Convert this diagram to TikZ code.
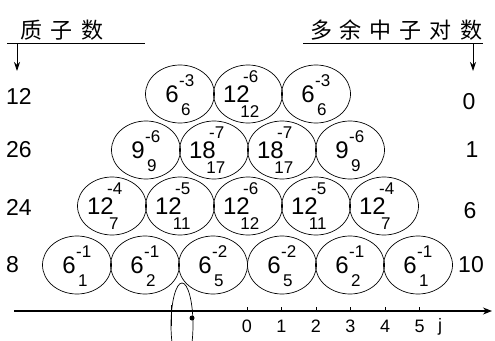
\documentclass[tikz,border=0pt]{standalone}
\usepackage{fontspec}
\setmainfont{Liberation Sans}
\newfontfamily\cjk{Noto Sans CJK SC}
\usetikzlibrary{shapes.geometric,arrows.meta}
% single-digit main number
\newcommand\nucs[6]{%
  \node[ball] (#1) at (#2,#3) {};
  \node[bignum, anchor=east, xshift=-1pt] (#1m) at (#2,#3) {#4};
  \path (#1m.east) ++(0,-13) node[smallnum, anchor=west] (#1p) {#5};
  \path (#1p.center) ++(-1,29) node[smallnum] (#1b) {#6};
}
% two-digit main number
\newcommand\nucd[6]{%
  \node[ball] (#1) at (#2,#3) {};
  \node[bignum, anchor=east, xshift=2pt] (#1m) at (#2,#3) {#4};
  \path (#1m.east) ++(-7,-17) node[smallnum, anchor=west] (#1p) {#5};
  \path (#1p.center) ++(-1,35) node[smallnum] (#1b) {#6};
}
\begin{document}
\begin{tikzpicture}[x=1pt,y=-1pt,
  ball/.style={draw, ellipse, minimum width=69pt, minimum height=58pt, inner sep=0pt, line width=0.7pt},
  bignum/.style={font=\fontsize{24}{24}\selectfont, inner sep=0pt},
  smallnum/.style={font=\fontsize{17}{17}\selectfont, inner sep=0pt},
  side/.style={font=\fontsize{23}{23}\selectfont, inner sep=0pt},
  ticklab/.style={font=\fontsize{18}{18}\selectfont, inner sep=0pt},
  head/.style={font=\cjk\fontsize{22}{22}\selectfont, inner sep=0pt},
  rule/.style={line width=0.9pt},
  vec/.style={line width=0.9pt, -{Stealth[length=9pt,width=6pt]}},
  axisline/.style={line width=1.2pt, -{Stealth[length=9pt,width=7pt]}},
  tickmark/.style={line width=0.8pt},
  thin/.style={line width=0.7pt},
]
\useasboundingbox (0,0) rectangle (495,340);

% headers
\node[head] (h1) at (62,30) {质\hspace{9pt}子\hspace{9pt}数};
\node[head] (h2) at (396,30) {多\hspace{8pt}余\hspace{8pt}中\hspace{8pt}子\hspace{8pt}对\hspace{8pt}数};
\coordinate (u1a) at (7,43); \coordinate (u1b) at (145,43);
\coordinate (u2a) at (303,43); \coordinate (u2b) at (483,43);
\draw[rule] (u1a) -- (u1b);
\draw[rule] (u2a) -- (u2b);
\coordinate (v1s) at (17,43); \coordinate (v1e) at (17,71);
\coordinate (v2s) at (473,43); \coordinate (v2e) at (473,71);
\draw[vec] (v1s) -- (v1e);
\draw[vec] (v2s) -- (v2e);

% side labels
\node[side, anchor=west] (l1) at (6,96) {12};
\node[side, anchor=west] (l2) at (6,150) {26};
\node[side, anchor=west] (l3) at (6,207) {24};
\node[side, anchor=west] (l4) at (6,265) {8};
\node[side] (r1) at (469,102) {0};
\node[side] (r2) at (472,150) {1};
\node[side] (r3) at (470,211) {6};
\node[side] (r4) at (471,265) {10};

% row 1
\nucs{a1}{180}{94}{6}{-3}{6}
\nucd{a2}{248}{94}{12}{-6}{12}
\nucs{a3}{316}{94}{6}{-3}{6}
% row 2
\nucs{b1}{146}{150}{9}{-6}{9}
\nucd{b2}{214}{150}{18}{-7}{17}
\nucd{b3}{282}{150}{18}{-7}{17}
\nucs{b4}{350}{150}{9}{-6}{9}
% row 3
\nucd{c1}{112}{206}{12}{-4}{7}
\nucd{c2}{180}{206}{12}{-5}{11}
\nucd{c3}{248}{206}{12}{-6}{12}
\nucd{c4}{316}{206}{12}{-5}{11}
\nucd{c5}{384}{206}{12}{-4}{7}
% row 4
\nucs{d1}{77}{265}{6}{-1}{1}
\nucs{d2}{145}{265}{6}{-1}{2}
\nucs{d3}{213}{265}{6}{-2}{5}
\nucs{d4}{282}{265}{6}{-2}{5}
\nucs{d5}{350}{265}{6}{-1}{2}
\nucs{d6}{418}{265}{6}{-1}{1}

% axis
\coordinate (ax0) at (14,311); \coordinate (ax1) at (492,311);
\draw[axisline] (ax0) -- (ax1);
\foreach \i in {0,...,5}{
  \coordinate (t\i) at (247+34.5*\i,311);
  \draw[tickmark] (t\i) -- ++(0,-4);
  \node[ticklab] (tl\i) at (247+34.5*\i,326) {\i};
}
\node[ticklab] (jl) at (440,327) {j};

% odd mark near the axis
\begin{scope}
\clip (0,0) rectangle (495,340);
\node[draw, ellipse, thin, minimum width=22pt, minimum height=84pt, inner sep=0pt] (el) at (182,325) {};
\end{scope}
\coordinate (vt0) at (171,305); \coordinate (vt1) at (171,326);
\draw[thin] (vt0) -- (vt1);
\node[circle, fill, inner sep=0pt, minimum size=5pt] (dot) at (192,318) {};
\end{tikzpicture}
\end{document}
